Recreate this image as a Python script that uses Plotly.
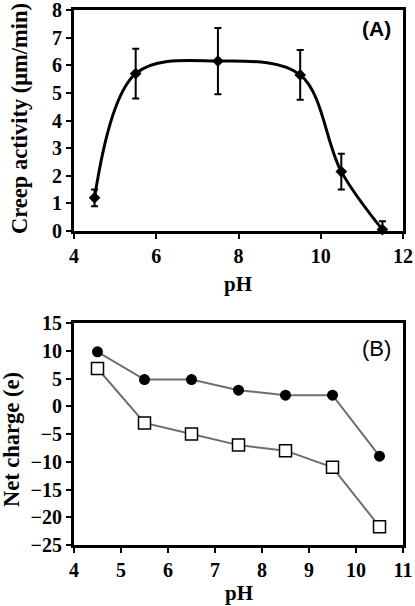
import plotly.graph_objects as go

# Panel A data
ph_a = [4.5, 5.5, 7.5, 9.5, 10.5, 11.5]
creep = [1.2, 5.7, 6.15, 5.65, 2.15, 0.05]
creep_err = [0.3, 0.9, 1.2, 0.9, 0.65, 0.3]

# Panel B data
ph_b = [4.5, 5.5, 6.5, 7.5, 8.5, 9.5, 10.5]
charge_circles = [9.8, 4.8, 4.8, 2.9, 2.0, 2.0, -9.0]
charge_squares = [6.8, -3.0, -5.0, -7.0, -8.0, -11.0, -21.7]

xticks_a = [4, 6, 8, 10, 12]
yticks_a = [0, 1, 2, 3, 4, 5, 6, 7, 8]
xticks_b = [4, 5, 6, 7, 8, 9, 10, 11]
yticks_b = [-25, -20, -15, -10, -5, 0, 5, 10, 15]
yticktext_b = ["\u221225", "\u221220", "\u221215", "\u221210", "\u22125", "0", "5", "10", "15"]

SERIF = "Liberation Serif"
SANS = "Liberation Sans"

fig = go.Figure()

fig.add_trace(go.Scatter(
    x=ph_a, y=creep, mode="lines+markers",
    line=dict(color="black", width=3, shape="spline", smoothing=1.0),
    marker=dict(symbol="diamond", size=9, color="black"),
    error_y=dict(type="data", array=creep_err, color="black", thickness=2, width=3.5),
    xaxis="x", yaxis="y", showlegend=False, cliponaxis=False,
))

fig.add_trace(go.Scatter(
    x=ph_b, y=charge_circles, mode="lines+markers",
    line=dict(color="#6e6e6e", width=2),
    marker=dict(symbol="circle", size=11, color="black"),
    xaxis="x2", yaxis="y2", showlegend=False,
))
fig.add_trace(go.Scatter(
    x=ph_b, y=charge_squares, mode="lines+markers",
    line=dict(color="#6e6e6e", width=2),
    marker=dict(symbol="square", size=12, color="white", line=dict(color="black", width=1.5)),
    xaxis="x2", yaxis="y2", showlegend=False,
))

tickfont = dict(family=SERIF, size=20, color="black", weight="bold")
xtitlefont = dict(family=SERIF, size=21, color="black", weight="bold")
ytitlefont = dict(family=SERIF, size=22.5, color="black", weight="bold")
common = dict(showline=True, linecolor="black", linewidth=3, mirror=True,
              ticks="outside", ticklen=5, tickwidth=2, tickcolor="black",
              showgrid=False, zeroline=False, tickfont=tickfont, automargin=False,
              ticklabeloverflow="allow")

T, B, L, R = 10, 61, 74, 12
H, W = 606, 415
ph = H - T - B
pw = W - L - R

def py(y):  # pixel row -> paper y
    return (H - B - y) / ph

def px(x):  # pixel col -> paper x
    return (x - L) / pw

def ann(text, x, y, font, angle=0):
    return dict(text=text, x=px(x), y=py(y), xref="paper", yref="paper",
                xanchor="center", yanchor="middle", showarrow=False,
                textangle=angle, font=font)

fig.update_layout(
    width=W, height=H,
    margin=dict(l=L, r=R, t=T, b=B),
    paper_bgcolor="white", plot_bgcolor="white",
    xaxis=dict(domain=[0, 1], range=[4, 12], tickvals=xticks_a, anchor="y", **common),
    yaxis=dict(domain=[py(231), 1], range=[0, 8], tickvals=yticks_a, anchor="x", **common),
    xaxis2=dict(domain=[0, 1], range=[4, 11], tickvals=xticks_b, anchor="y2", **common),
    yaxis2=dict(domain=[0, py(323)], range=[-25, 15], tickvals=yticks_b, ticktext=yticktext_b,
                anchor="x2", **common),
    annotations=[
        ann("pH", 238, 284, xtitlefont),
        ann("pH", 239, 593, xtitlefont),
        ann("Creep activity (μm/min)", 19, 119, ytitlefont, -90),
        ann("Net charge (e)", 11, 440, ytitlefont, -90),
        dict(text="(A)", x=1.0, y=py(29), xref="paper", yref="paper",
             xanchor="right", yanchor="middle", showarrow=False, xshift=-10,
             font=dict(family=SANS, size=21, color="black", weight="bold")),
        dict(text="(B)", x=1.0, y=py(348), xref="paper", yref="paper",
             xanchor="right", yanchor="middle", showarrow=False, xshift=-10,
             font=dict(family=SANS, size=22, color="black")),
    ],
)

fig.write_html("out.html", config={"displayModeBar": False},
               post_script="document.body.style.margin='0';")
